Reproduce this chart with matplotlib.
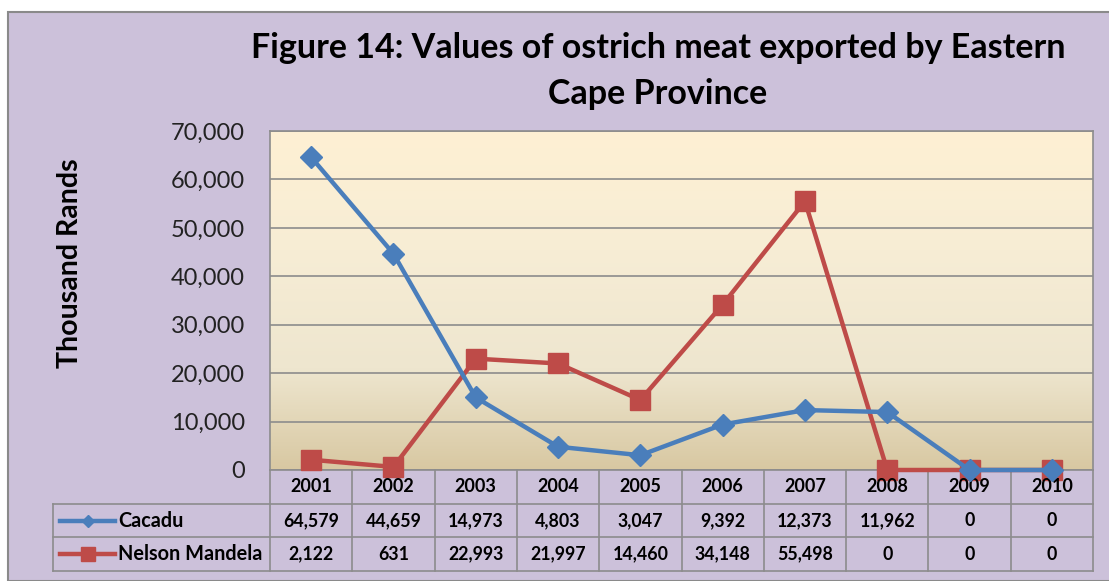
import numpy as np
import matplotlib.pyplot as plt
from matplotlib.colors import LinearSegmentedColormap
from matplotlib.patches import Rectangle
from matplotlib.lines import Line2D
from matplotlib.transforms import blended_transform_factory

years = ['2001', '2002', '2003', '2004', '2005', '2006', '2007', '2008', '2009', '2010']
cacadu = [64579, 44659, 14973, 4803, 3047, 9392, 12373, 11962, 0, 0]
nelson_mandela = [2122, 631, 22993, 21997, 14460, 34148, 55498, 0, 0, 0]
series_names = ['Cacadu', 'Nelson Mandela']
yticks = [0, 10000, 20000, 30000, 40000, 50000, 60000, 70000]

plt.rcParams['font.family'] = ['Lato', 'DejaVu Sans']

W, H = 1109, 581
fig = plt.figure(figsize=(W / 100, H / 100), dpi=100, facecolor='white')

# purple chart background with gray border
fig.patches.append(Rectangle((8 / W, 0), 1.2, (H - 12) / H, transform=fig.transFigure,
                             facecolor='#CCC1DA', edgecolor='#8A8A8A', linewidth=1.5, zorder=0))

ax = fig.add_axes([270 / W, (H - 470) / H, 823 / W, 339 / H])
ax.set_zorder(2)

# gradient plot area
grad = LinearSegmentedColormap.from_list('g', [(0, '#D8C8A2'), (0.3, '#EEE6CF'),
                                               (0.65, '#F7EDD5'), (1, '#FEF0D3')])
ax.imshow(np.linspace(0, 1, 256).reshape(-1, 1), aspect='auto', cmap=grad,
          extent=[0, 10, 0, 70000], origin='lower', zorder=0)

x = np.arange(len(years)) + 0.5
blue, red = '#4A7EBB', '#BE4B48'
ax.plot(x, cacadu, color=blue, linewidth=3.2, marker='D', markersize=11, zorder=4, clip_on=False)
ax.plot(x, nelson_mandela, color=red, linewidth=3.2, marker='s', markersize=14, zorder=3, clip_on=False)

ax.set_xlim(0, 10)
ax.set_ylim(0, 70000)
ax.set_yticks(yticks)
ax.set_yticklabels([f'{v:,}' for v in yticks], fontsize=17, color='#222222')
ax.set_xticks([])
ax.tick_params(axis='y', length=0, pad=18)
ax.yaxis.grid(True, color='#8C8C8C', linewidth=1.2)
ax.set_axisbelow(False)
for s in ax.spines.values():
    s.set_color('#8C8C8C')
    s.set_linewidth(1.2)

fig.text(70 / W, 1 - 263 / H, 'Thousand Rands', rotation=90, ha='center', va='center',
         fontsize=20.5, fontweight='bold')
fig.text(658 / W, 1 - 48 / H, 'Figure 14: Values of ostrich meat exported by Eastern',
         ha='center', va='center', fontsize=24.5, fontweight='bold')
fig.text(658 / W, 1 - 94 / H, 'Cape Province', ha='center', va='center',
         fontsize=24.5, fontweight='bold')

# data table below the axis
tr = blended_transform_factory(ax.transData, ax.transAxes)
h = 33.7 / 339
xl = -(270 - 53) / 82.3
gc = '#8C8C8C'
for i in range(11):
    ax.add_line(Line2D([i, i], [0, -3 * h], transform=tr, color=gc, lw=1.2, clip_on=False))
ax.add_line(Line2D([xl, xl], [-h, -3 * h], transform=tr, color=gc, lw=1.2, clip_on=False))
for k in (1, 2, 3):
    ax.add_line(Line2D([xl, 10], [-k * h, -k * h], transform=tr, color=gc, lw=1.2, clip_on=False))

for i, yr in enumerate(years):
    ax.text(i + 0.5, -0.5 * h, yr, transform=tr, ha='center', va='center',
            fontsize=13, fontweight='bold')
for r, (vals, name, col, mk, ms) in enumerate([(cacadu, series_names[0], blue, 'D', 6),
                                                (nelson_mandela, series_names[1], red, 's', 10)]):
    yc = -(1.5 + r) * h
    for i, v in enumerate(vals):
        ax.text(i + 0.5, yc, f'{v:,}', transform=tr, ha='center', va='center',
                fontsize=12.8, fontweight='bold')
    ax.add_line(Line2D([xl + 0.09, xl + 0.75], [yc, yc], transform=tr, color=col, lw=3.2,
                       clip_on=False))
    ax.add_line(Line2D([xl + 0.42], [yc], transform=tr, color=col, marker=mk, markersize=ms,
                       linestyle='none', clip_on=False))
    ax.text(xl + 0.79, yc, name, transform=tr, ha='left', va='center',
            fontsize=14.3, fontweight='bold')

fig.savefig('out.png', dpi=100, facecolor='white')
